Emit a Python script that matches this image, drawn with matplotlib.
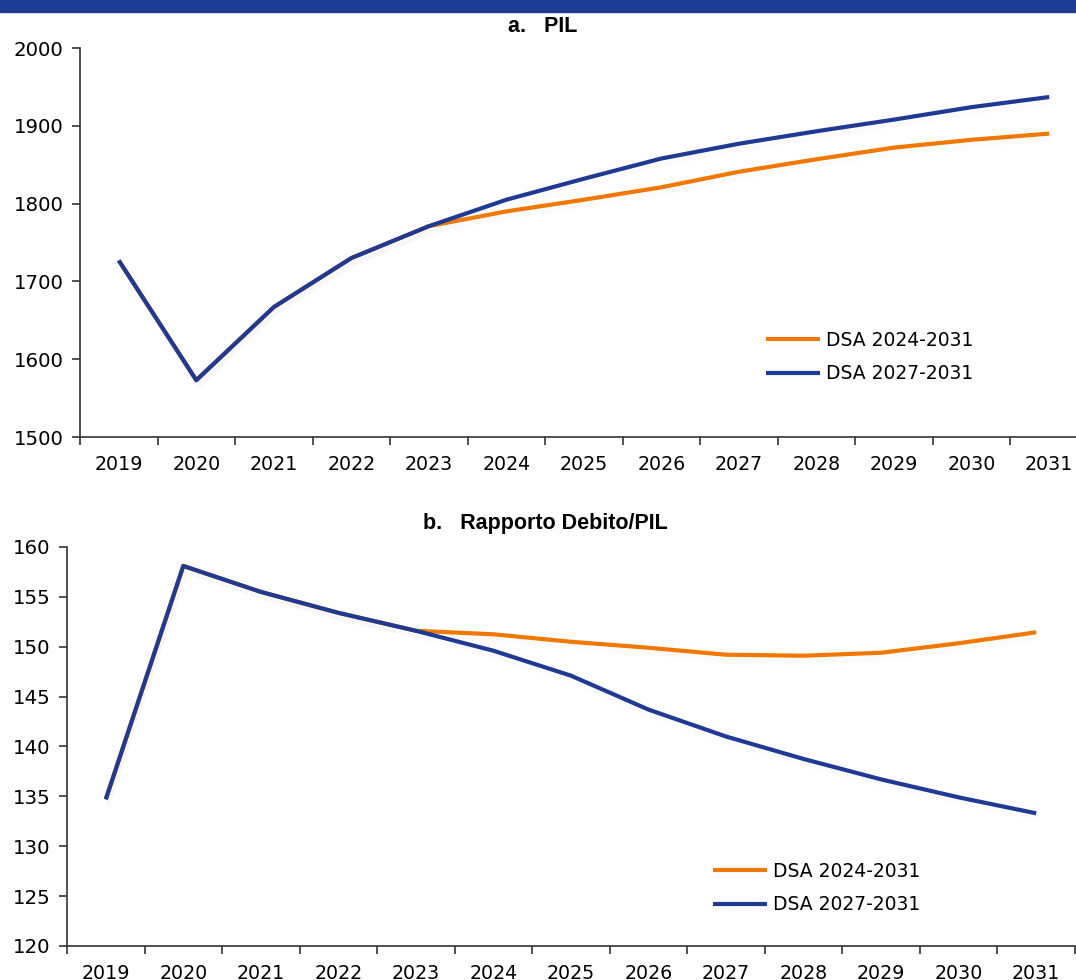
import numpy as np
import matplotlib
matplotlib.use("Agg")
import matplotlib.pyplot as plt
import matplotlib.patheffects as pe
from matplotlib.patches import Rectangle

anni = ["2019", "2020", "2021", "2022", "2023", "2024", "2025",
        "2026", "2027", "2028", "2029", "2030", "2031"]

# PIL (mld di euro)
pil_dsa_2024 = [1727, 1573, 1667, 1730, 1771, 1790, 1805, 1821, 1841, 1857, 1872, 1882, 1890]
pil_dsa_2027 = [1727, 1573, 1667, 1730, 1771, 1805, 1832, 1858, 1877, 1893, 1908, 1924, 1937]

# Rapporto debito/PIL (%)
deb_dsa_2024 = [134.7, 158.1, 155.5, 153.4, 151.6, 151.25, 150.5, 149.9, 149.2, 149.1, 149.4, 150.35, 151.45]
deb_dsa_2027 = [134.7, 158.1, 155.5, 153.4, 151.6, 149.6, 147.1, 143.7, 141.0, 138.75, 136.7, 134.9, 133.3]

etichette = ["DSA 2024-2031", "DSA 2027-2031"]

ARANCIO = "#F07800"
BLU = "#1F3A93"

plt.rcParams['font.family'] = ['DejaVu Sans']

W, H = 1076, 980
fig = plt.figure(figsize=(W / 100, H / 100), dpi=100)

# banda blu in alto
fig.patches.append(Rectangle((0, 1 - 12 / H), 1, 12 / H, transform=fig.transFigure,
                             color=BLU, zorder=0))


def px_axes(x0, x1, ytop, ybot):
    return fig.add_axes([x0 / W, 1 - ybot / H, (x1 - x0) / W, (ybot - ytop) / H])


ax1 = px_axes(80, 1088, 48, 437)
ax2 = px_axes(67, 1075, 547, 946)

shadow = [pe.SimpleLineShadow(offset=(1.5, -4), shadow_color='0.8', alpha=0.08), pe.Normal()]
x = np.arange(len(anni))


def stile(ax, ylim, yticks):
    ax.set_xlim(-0.5, len(anni) - 0.5)
    ax.set_ylim(*ylim)
    ax.set_yticks(yticks)
    ax.set_xticks(x)
    ax.set_xticklabels(anni)
    ax.set_xticks(np.arange(len(anni) + 1) - 0.5, minor=True)
    ax.tick_params(axis='x', which='major', length=0, pad=13, labelsize=13.7)
    ax.tick_params(axis='x', which='minor', length=6, width=1.2, color='#333333')
    ax.tick_params(axis='y', length=6, width=1.2, color='#333333', pad=6, labelsize=14.2)
    for s in ['top', 'right']:
        ax.spines[s].set_visible(False)
    for s in ['left', 'bottom']:
        ax.spines[s].set_color('#333333')
        ax.spines[s].set_linewidth(1.2)
    ax.patch.set_alpha(0)


leg_kw = dict(loc='upper left', frameon=False, fontsize=13.5, handlelength=2.9,
              handletextpad=0.3, labelspacing=0.75, borderaxespad=0, borderpad=0)

ax1.plot(x, pil_dsa_2024, color=ARANCIO, lw=3, label=etichette[0], path_effects=shadow, solid_capstyle='butt')
ax1.plot(x, pil_dsa_2027, color=BLU, lw=3, label=etichette[1], path_effects=shadow, solid_capstyle='butt')
stile(ax1, (1500, 2000), np.arange(1500, 2001, 100))
ax1.legend(bbox_to_anchor=((766 - 80) / 1008, (437 - 331) / 389), **leg_kw)

ax2.plot(x, deb_dsa_2024, color=ARANCIO, lw=3, label=etichette[0], path_effects=shadow, solid_capstyle='butt')
ax2.plot(x, deb_dsa_2027, color=BLU, lw=3, label=etichette[1], path_effects=shadow, solid_capstyle='butt')
stile(ax2, (120, 160), np.arange(120, 161, 5))
ax2.legend(bbox_to_anchor=((713 - 67) / 1008, (946 - 862) / 399), **leg_kw)

titolo_font = dict(fontsize=15.5, fontweight='bold', ha='center', va='center',
                   family=['Liberation Sans Narrow', 'Liberation Sans', 'DejaVu Sans'])
fig.text(543 / W, 1 - 27 / H, "a.   PIL", **titolo_font)
fig.text(545 / W, 1 - 523 / H, "b.   Rapporto Debito/PIL", **titolo_font)

fig.savefig("out.png", dpi=100)
